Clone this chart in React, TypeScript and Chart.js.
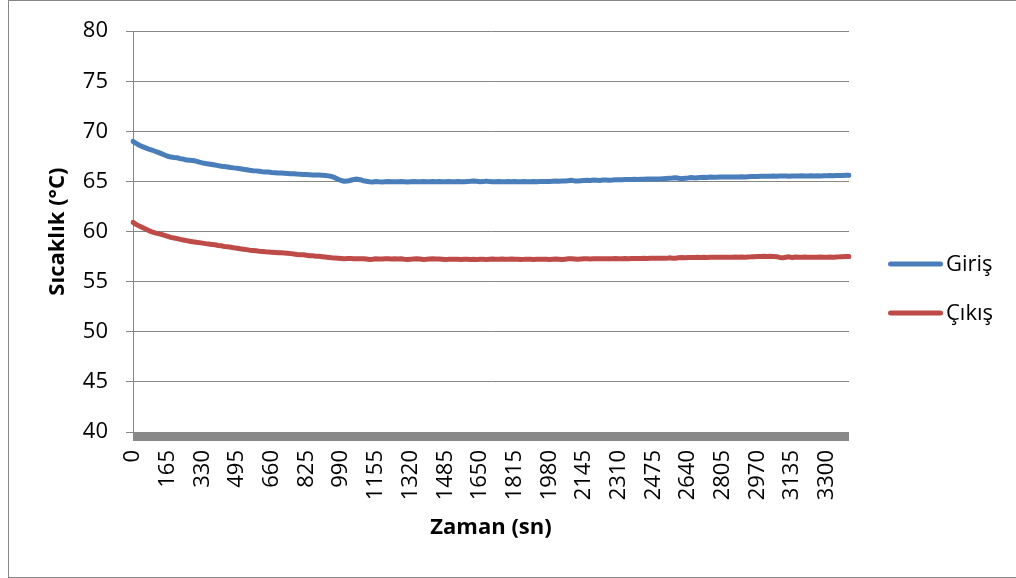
import { useEffect, useRef } from "react";
import { Chart, registerables } from "chart.js";

Chart.register(...registerables);

// Sampling interval of the measurement (seconds)
const TIME_STEP_S = 15;

// Giriş (inlet) temperature, °C, one value every 15 s
const girisTemp: number[] = [
  69.0, 68.8, 68.62, 68.48, 68.35, 68.24, 68.14, 68.02, 67.9, 67.78, 67.65, 67.52,
  67.44, 67.4, 67.37, 67.28, 67.24, 67.14, 67.12, 67.1, 67.03, 66.93, 66.86, 66.8,
  66.75, 66.7, 66.64, 66.58, 66.52, 66.5, 66.45, 66.4, 66.36, 66.33, 66.28, 66.22,
  66.18, 66.12, 66.08, 66.06, 66.02, 65.98, 65.96, 65.94, 65.9, 65.88, 65.86, 65.84,
  65.82, 65.8, 65.78, 65.78, 65.74, 65.72, 65.7, 65.7, 65.68, 65.66, 65.66, 65.64,
  65.62, 65.6, 65.56, 65.5, 65.38, 65.22, 65.1, 65.02, 65.04, 65.12, 65.2, 65.24,
  65.18, 65.08, 65.02, 64.98, 64.96, 65.0, 64.97, 64.96, 64.98, 65.0, 64.97, 64.98,
  64.98, 64.99, 64.97, 64.95, 64.98, 65.0, 64.98, 64.97, 64.99, 64.98, 64.97, 64.99,
  64.98, 65.0, 64.98, 64.97, 64.99, 64.98, 64.98, 64.99, 64.97, 64.98, 65.0, 65.02,
  65.05, 65.02, 64.98, 64.99, 65.04, 64.99, 64.98, 64.98, 64.99, 64.97, 64.98, 64.99,
  64.98, 64.99, 64.98, 64.98, 64.99, 64.98, 64.97, 64.99, 64.98, 64.99, 65.0, 64.99,
  65.0, 65.02, 65.04, 65.03, 65.06, 65.04, 65.08, 65.12, 65.06, 65.05, 65.08, 65.1,
  65.12, 65.1, 65.14, 65.12, 65.1, 65.14, 65.16, 65.13, 65.15, 65.18, 65.17, 65.18,
  65.2, 65.19, 65.21, 65.22, 65.21, 65.23, 65.22, 65.24, 65.25, 65.24, 65.26, 65.25,
  65.28, 65.3, 65.32, 65.34, 65.38, 65.32, 65.28, 65.33, 65.36, 65.4, 65.36, 65.38,
  65.4, 65.42, 65.4, 65.44, 65.42, 65.43, 65.45, 65.44, 65.44, 65.46, 65.45, 65.45,
  65.46, 65.47, 65.46, 65.48, 65.5, 65.49, 65.5, 65.52, 65.53, 65.52, 65.53, 65.54,
  65.53, 65.55, 65.54, 65.55, 65.52, 65.55, 65.56, 65.54, 65.57, 65.55, 65.56, 65.58,
  65.56, 65.57, 65.55, 65.58, 65.57, 65.59, 65.58, 65.6, 65.61, 65.6, 65.62, 65.62,
];

// Çıkış (outlet) temperature, °C, one value every 15 s
const cikisTemp: number[] = [
  60.92, 60.72, 60.55, 60.4, 60.25, 60.1, 59.98, 59.88, 59.8, 59.72, 59.62, 59.52,
  59.42, 59.36, 59.3, 59.22, 59.16, 59.1, 59.04, 58.98, 58.94, 58.9, 58.85, 58.8,
  58.76, 58.72, 58.68, 58.62, 58.58, 58.52, 58.48, 58.44, 58.38, 58.33, 58.28, 58.24,
  58.2, 58.15, 58.12, 58.08, 58.04, 58.02, 57.98, 57.96, 57.94, 57.92, 57.9, 57.88,
  57.86, 57.84, 57.8, 57.76, 57.72, 57.7, 57.68, 57.64, 57.6, 57.58, 57.55, 57.53,
  57.5, 57.46, 57.42, 57.38, 57.36, 57.34, 57.32, 57.3, 57.32, 57.31, 57.29, 57.3,
  57.28, 57.3, 57.26, 57.22, 57.24, 57.28, 57.27, 57.26, 57.28, 57.29, 57.27, 57.28,
  57.27, 57.28, 57.24, 57.22, 57.25, 57.27, 57.28, 57.26, 57.22, 57.24, 57.27, 57.28,
  57.27, 57.26, 57.24, 57.22, 57.23, 57.25, 57.24, 57.23, 57.22, 57.24, 57.23, 57.22,
  57.23, 57.22, 57.24, 57.23, 57.22, 57.24, 57.26, 57.25, 57.24, 57.26, 57.25, 57.24,
  57.26, 57.25, 57.24, 57.22, 57.23, 57.25, 57.24, 57.22, 57.24, 57.25, 57.23, 57.24,
  57.22, 57.24, 57.26, 57.24, 57.22, 57.25, 57.28, 57.3, 57.27, 57.24, 57.26, 57.28,
  57.28, 57.27, 57.29, 57.3, 57.28, 57.29, 57.3, 57.29, 57.3, 57.31, 57.3, 57.3,
  57.31, 57.3, 57.31, 57.32, 57.31, 57.32, 57.33, 57.32, 57.33, 57.34, 57.33, 57.34,
  57.34, 57.33, 57.38, 57.35, 57.34, 57.4, 57.41, 57.4, 57.42, 57.41, 57.42, 57.43,
  57.42, 57.43, 57.42, 57.44, 57.43, 57.44, 57.44, 57.45, 57.44, 57.45, 57.45, 57.46,
  57.45, 57.46, 57.45, 57.47, 57.48, 57.5, 57.52, 57.52, 57.53, 57.52, 57.53, 57.52,
  57.5, 57.42, 57.38, 57.44, 57.48, 57.4, 57.46, 57.44, 57.45, 57.46, 57.45, 57.44,
  57.45, 57.44, 57.46, 57.45, 57.44, 57.46, 57.45, 57.47, 57.48, 57.5, 57.52, 57.52,
];

// Time categories (seconds) of the sample grid
const timeLabels: string[] = girisTemp.map((_, i) => String(i * TIME_STEP_S));

// Tick labels shown on the time axis
const xTickLabels: string[] = [
  "0", "165", "330", "495", "660", "825", "990", "1155", "1320", "1485", "1650",
  "1815", "1980", "2145", "2310", "2475", "2640", "2805", "2970", "3135", "3300",
];

const Y_MIN = 40;
const Y_MAX = 80;
const Y_STEP = 5;

const seriesNames = ["Giriş", "Çıkış"];
const seriesColors = ["#4A7EBB", "#BE4B48"];

const FONT = "'Open Sans', 'Noto Sans', sans-serif";
const GRID = "#878787";

const axisBarPlugin = {
  id: "axisBar",
  beforeDatasetsDraw(chart: any) {
    const { ctx, chartArea } = chart;
    ctx.save();
    ctx.fillStyle = "#898989";
    ctx.fillRect(chartArea.left, chartArea.bottom, chartArea.right - chartArea.left, 9);
    ctx.restore();
  },
};

const legendPlugin = {
  id: "sideLegend",
  afterDraw(chart: any) {
    const { ctx, chartArea } = chart;
    const ds = chart.data.datasets;
    const spacing = 49;
    const startY = chart.height / 2 - ((ds.length - 1) * spacing) / 2 - 0.5;
    ctx.save();
    ds.forEach((d: any, i: number) => {
      const y = startY + i * spacing;
      const x1 = chartArea.right + 41.5;
      const x2 = chartArea.right + 91.5;
      ctx.beginPath();
      ctx.strokeStyle = d.borderColor;
      ctx.lineWidth = 5;
      ctx.lineCap = "round";
      ctx.moveTo(x1, y);
      ctx.lineTo(x2, y);
      ctx.stroke();
      ctx.fillStyle = "#000";
      ctx.font = `22px ${FONT}`;
      ctx.textBaseline = "middle";
      ctx.textAlign = "left";
      ctx.fillText(d.label, chartArea.right + 97, y + 1);
    });
    ctx.restore();
  },
};

export default function App() {
  const canvasRef = useRef<HTMLCanvasElement | null>(null);

  useEffect(() => {
    if (!canvasRef.current) return;
    const chart = new Chart(canvasRef.current, {
      type: "line",
      data: {
        labels: timeLabels,
        datasets: [
          {
            label: seriesNames[0],
            data: girisTemp,
            borderColor: seriesColors[0],
            backgroundColor: seriesColors[0],
            borderWidth: 5,
            pointRadius: 0,
            tension: 0,
            borderCapStyle: "round",
            borderJoinStyle: "round",
          },
          {
            label: seriesNames[1],
            data: cikisTemp,
            borderColor: seriesColors[1],
            backgroundColor: seriesColors[1],
            borderWidth: 5,
            pointRadius: 0,
            tension: 0,
            borderCapStyle: "round",
            borderJoinStyle: "round",
          },
        ],
      },
      options: {
        animation: false,
        responsive: true,
        maintainAspectRatio: false,
        layout: { padding: { left: 0, top: 31, right: 167, bottom: 0 } },
        plugins: {
          legend: { display: false },
          tooltip: { enabled: false },
        },
        scales: {
          x: {
            type: "category",
            offset: false,
            grid: { display: false, drawTicks: false },
            border: { display: false },
            ticks: {
              autoSkip: false,
              minRotation: 90,
              maxRotation: 90,
              padding: 18,
              color: "#000",
              font: { family: FONT, size: 22 },
              callback: (_v: any, index: number) => {
                const lbl = timeLabels[index];
                return xTickLabels.includes(lbl) ? lbl : "";
              },
            },
            title: {
              display: true,
              text: "Zaman (sn)",
              color: "#000",
              font: { family: FONT, size: 22, weight: "bold" },
              padding: { top: 0, bottom: 37 },
            },
            afterFit: (s: any) => {
              s.height = 146;
            },
          },
          y: {
            min: Y_MIN,
            max: Y_MAX,
            grid: { color: GRID, lineWidth: 1, tickLength: 7, drawTicks: true },
            border: { display: true, color: GRID, width: 1 },
            ticks: {
              stepSize: Y_STEP,
              padding: 18,
              color: "#000",
              font: { family: FONT, size: 22 },
            },
            title: {
              display: true,
              text: "Sıcaklık (°C)",
              color: "#000",
              font: { family: FONT, size: 22, weight: "bold" },
              padding: { top: 45, bottom: 0 },
            },
            afterFit: (s: any) => {
              s.width = 133;
            },
          },
        },
      },
      plugins: [axisBarPlugin, legendPlugin],
    });
    return () => chart.destroy();
  }, []);

  return (
    <div
      style={{
        position: "fixed",
        left: 0,
        top: 0,
        width: 1016,
        height: 578,
        overflow: "hidden",
        background: "#fff",
      }}
    >
      <div
        style={{
          position: "absolute",
          left: 8,
          top: 0,
          width: 1100,
          height: 578,
          boxSizing: "border-box",
          border: "1px solid #878787",
        }}
      />
      <canvas
        ref={canvasRef}
        style={{ position: "absolute", left: 0, top: 0, width: 1016, height: 578 }}
      />
    </div>
  );
}
